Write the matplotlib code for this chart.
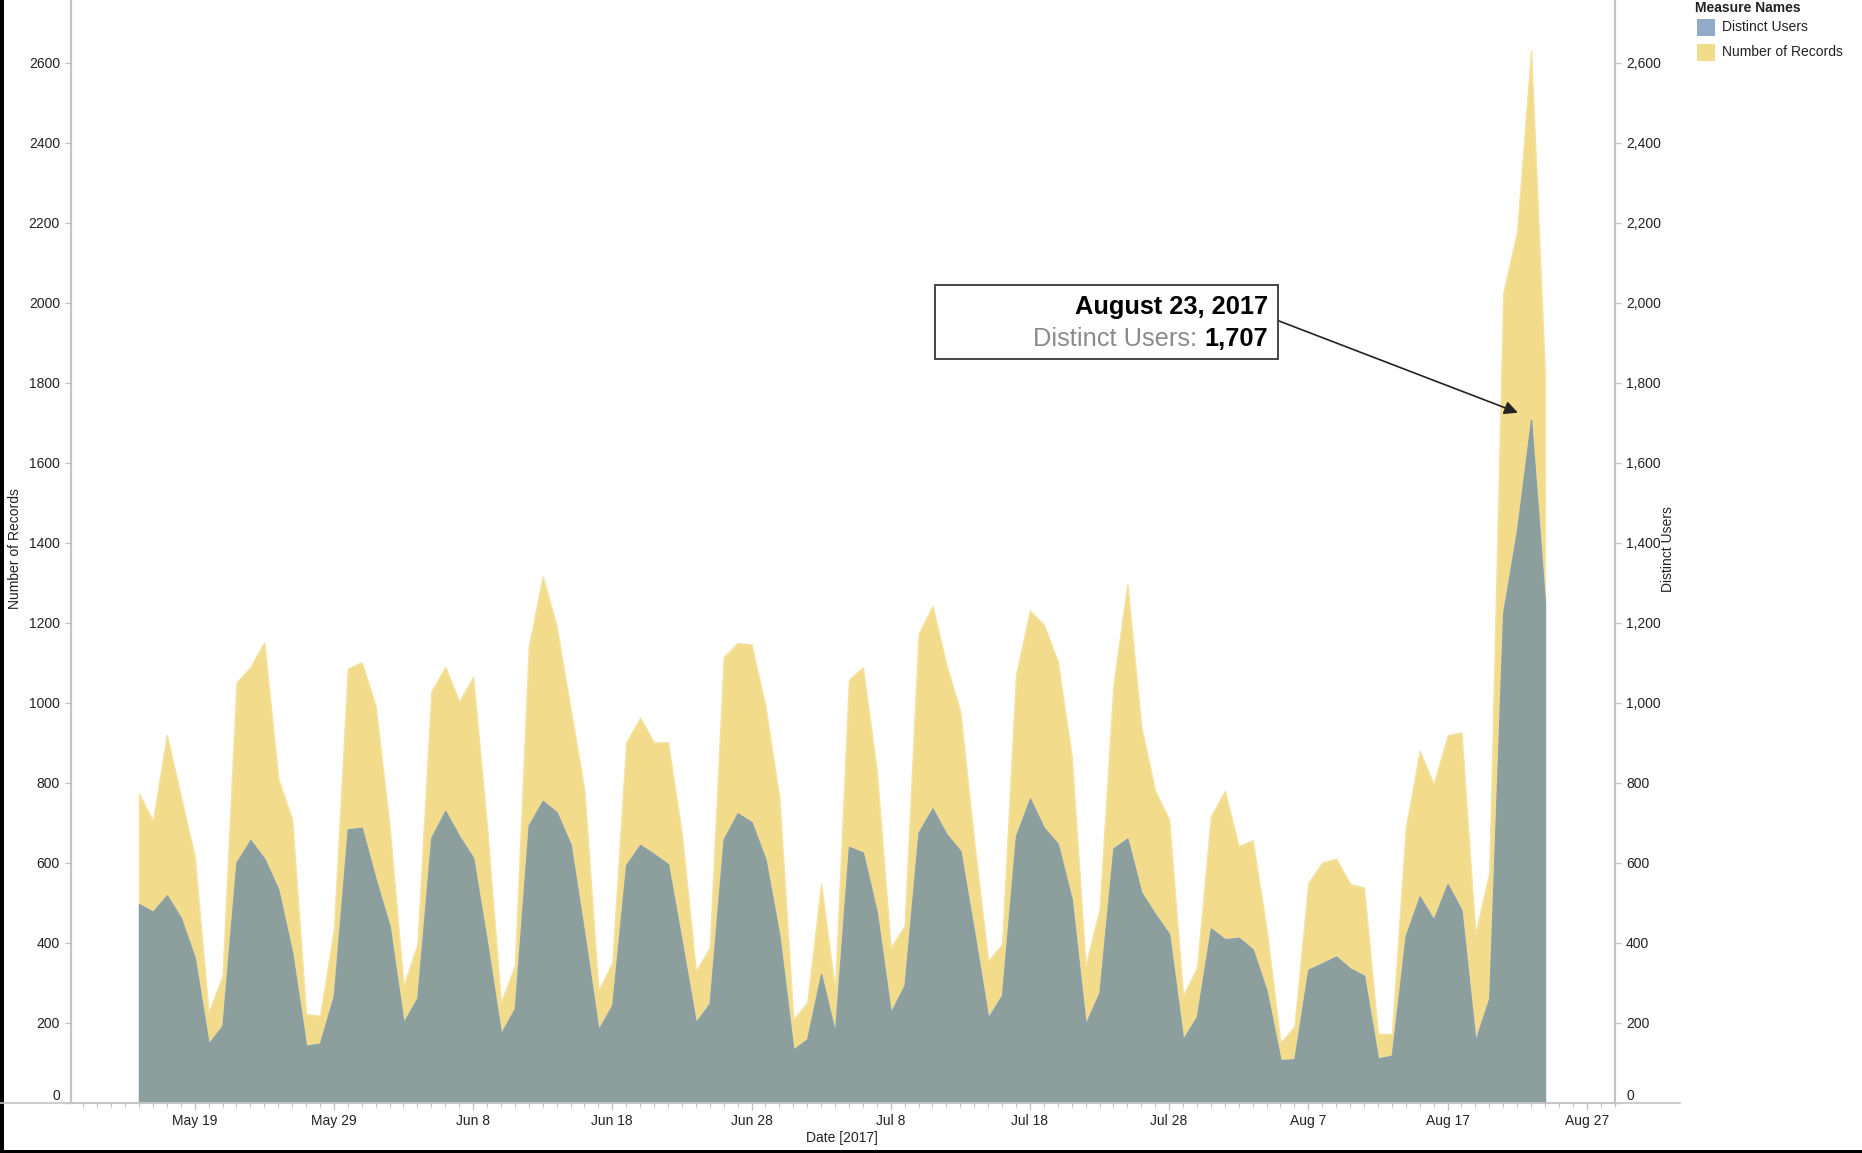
import matplotlib
matplotlib.use('Agg')
import matplotlib.pyplot as plt
import matplotlib.dates as mdates
from matplotlib import font_manager
from matplotlib.patches import Rectangle
from matplotlib.lines import Line2D
import pandas as pd

# daily values, May 15 - Aug 24 2017
dates = pd.date_range('2017-05-15', '2017-08-24', freq='D')

records = [772, 704, 920, 766, 616, 225, 317, 1050, 1089, 1151,
           810, 708, 221, 217, 433, 1085, 1101, 991, 690, 292,
           396, 1028, 1089, 1003, 1064, 690, 250, 342, 1141, 1316,
           1191, 985, 780, 280, 350, 901, 962, 900, 901, 670,
           329, 387, 1114, 1149, 1145, 991, 762, 208, 250, 546,
           283, 1057, 1088, 829, 387, 443, 1172, 1242, 1095, 977,
           650, 354, 396, 1070, 1230, 1195, 1103, 866, 342, 483,
           1045, 1297, 940, 779, 708, 267, 337, 716, 779, 641,
           656, 433, 150, 190, 550, 600, 610, 547, 537, 172,
           171, 687, 879, 796, 918, 926, 421, 575, 2024, 2179,
           2631, 1820]

users = [496, 477, 518, 462, 362, 147, 192, 600, 656, 610,
         533, 375, 142, 147, 267, 683, 687, 558, 441, 200,
         261, 662, 729, 666, 612, 400, 172, 235, 693, 754,
         726, 645, 420, 182, 243, 594, 644, 621, 596, 400,
         200, 248, 658, 723, 701, 608, 417, 132, 158, 321,
         175, 639, 625, 475, 225, 293, 675, 735, 671, 629,
         425, 212, 268, 666, 760, 687, 647, 508, 196, 275,
         635, 660, 525, 471, 421, 158, 215, 435, 408, 412,
         383, 279, 106, 108, 332, 348, 365, 335, 317, 110,
         117, 417, 515, 457, 546, 481, 154, 260, 1224, 1432,
         1707, 1249]

tick_dates = pd.to_datetime(['2017-05-19', '2017-05-29', '2017-06-08', '2017-06-18',
                             '2017-06-28', '2017-07-08', '2017-07-18', '2017-07-28',
                             '2017-08-07', '2017-08-17', '2017-08-27'])
tick_labels = ['May 19', 'May 29', 'Jun 8', 'Jun 18', 'Jun 28', 'Jul 8',
               'Jul 18', 'Jul 28', 'Aug 7', 'Aug 17', 'Aug 27']
y_ticks = list(range(0, 2601, 200))
legend_names = ['Distinct Users', 'Number of Records']

YELLOW = '#F2DC8C'
GRAY = '#8C9F9C'
BLUE = '#92ABC9'
AXIS = '#C4C4C4'
TXT = '#222222'

plt.rcParams['font.family'] = ['Liberation Sans', 'DejaVu Sans']

names = {f.name for f in font_manager.fontManager.ttflist}
if 'Liberation Sans Narrow' in names:
    note_font, note_size = ['Liberation Sans Narrow', 'Liberation Sans'], 22
else:
    note_font, note_size = ['Liberation Sans', 'DejaVu Sans'], 18.3

W, H = 1862, 1153
fig = plt.figure(figsize=(W / 100, H / 100), dpi=100)


def fx(x):
    return x / W


def fy(y):
    return 1 - y / H


base = 1102.5
ax = fig.add_axes([fx(71), fy(base), fx(1615) - fx(71), fy(0) - fy(base)])

ax.fill_between(dates, records, facecolor=YELLOW, edgecolor='#F5E2A2', lw=1)
ax.fill_between(dates, users, facecolor=GRAY, edgecolor='#86A0B2', lw=1)

x0 = mdates.date2num(dates[0])
ax.set_xlim(x0 - 4.885, x0 + 106.03)
ax.set_ylim(0, 2757)

ax.set_xticks(tick_dates)
ax.set_xticklabels(tick_labels)
ax.xaxis.set_minor_locator(mdates.DayLocator())
ax.tick_params(axis='x', which='major', length=5, width=1, color=AXIS,
               labelsize=10, labelcolor=TXT, pad=3)
ax.tick_params(axis='x', which='minor', length=3, width=0.8, color=AXIS)

ax.set_yticks(y_ticks)
ax.set_yticklabels([str(v) for v in y_ticks])
ax.tick_params(axis='y', length=4, width=1, color=AXIS, labelsize=10,
               labelcolor=TXT, pad=4)

ax2 = ax.twinx()
ax2.set_ylim(ax.get_ylim())
ax2.set_yticks(y_ticks)
ax2.set_yticklabels([f'{v:,}' for v in y_ticks])
ax2.tick_params(axis='y', length=4, width=1, color=AXIS, labelsize=10,
                labelcolor=TXT, pad=4)

for a in (ax, ax2):
    a.spines['top'].set_visible(False)
ax.spines['right'].set_visible(False)
ax2.spines['left'].set_visible(False)
ax2.spines['bottom'].set_visible(False)
ax.spines['left'].set_color(AXIS)
ax.spines['left'].set_linewidth(1.6)
ax.spines['bottom'].set_color(AXIS)
ax.spines['bottom'].set_linewidth(1.2)
ax2.spines['right'].set_color(AXIS)
ax2.spines['right'].set_linewidth(1.6)

# bottom "0" labels sit a little higher
ax.get_yticklabels()[0].set_va('bottom')
ax2.get_yticklabels()[0].set_va('bottom')

# baseline runs past the panes
fig.add_artist(Line2D([0, fx(1680)], [fy(base), fy(base)], color=AXIS, lw=1.2))

# axis titles
fig.text(fx(15), fy(549), 'Number of Records', rotation=90, ha='center',
         va='center', fontsize=10, color='#222222')
fig.text(fx(1668), fy(549), 'Distinct Users', rotation=90, ha='center',
         va='center', fontsize=10, color='#222222')
fig.text(fx(842), fy(1138), 'Date [2017]', ha='center', va='center',
         fontsize=10, color='#222222')

# legend
fig.text(fx(1695), fy(8), 'Measure Names', ha='left', va='center',
         fontsize=10, fontweight='bold', color='#222222')
for i, (name, col) in enumerate(zip(legend_names, [BLUE, YELLOW])):
    yc = 27 + 25 * i
    fig.add_artist(Rectangle((fx(1697), fy(yc + 8.5)), 18 / W, 17 / H,
                             facecolor=col, edgecolor='none',
                             transform=fig.transFigure))
    fig.text(fx(1722), fy(yc), name, ha='left', va='center', fontsize=10,
             color='#222222')

# annotation box
fig.add_artist(Rectangle((fx(934.6), fy(358.6)), (1277.8 - 934.6) / W,
                         (358.6 - 285) / H, facecolor='white',
                         edgecolor='#444444', lw=1.4,
                         transform=fig.transFigure, zorder=5))
peak = users.index(max(users))
fig.text(fx(1268), fy(307), dates[peak].strftime('%B %-d, %Y'), ha='right',
         va='center', fontsize=note_size, fontweight='bold', family=note_font,
         color='black', zorder=6)
t_val = fig.text(fx(1268), fy(346), f'{users[peak]:,}', ha='right',
                 va='baseline', fontsize=note_size, fontweight='bold',
                 family=note_font, color='black', zorder=6)
fig.canvas.draw()
bb = t_val.get_window_extent().transformed(fig.transFigure.inverted())
fig.text(bb.x0, t_val.get_position()[1], 'Distinct Users: ', ha='right',
         va='baseline', fontsize=note_size, family=note_font,
         color='#8A8A8A', zorder=6)

ax.annotate('', xy=(mdates.date2num(dates[peak]) - 0.95, users[peak] + 18),
            xycoords='data', xytext=(fx(1278), fy(320.6)),
            textcoords='figure fraction',
            arrowprops=dict(arrowstyle='-|>', color='#222222', lw=1.2,
                            mutation_scale=20, shrinkA=0, shrinkB=0),
            zorder=6)

# dark frame edges of the screenshot
fig.add_artist(Rectangle((0, 0), 4 / W, 1, facecolor='black',
                         edgecolor='none', transform=fig.transFigure))
fig.add_artist(Rectangle((0, 0), 1, 3 / H, facecolor='black',
                         edgecolor='none', transform=fig.transFigure))

fig.savefig('out.png', dpi=100)
